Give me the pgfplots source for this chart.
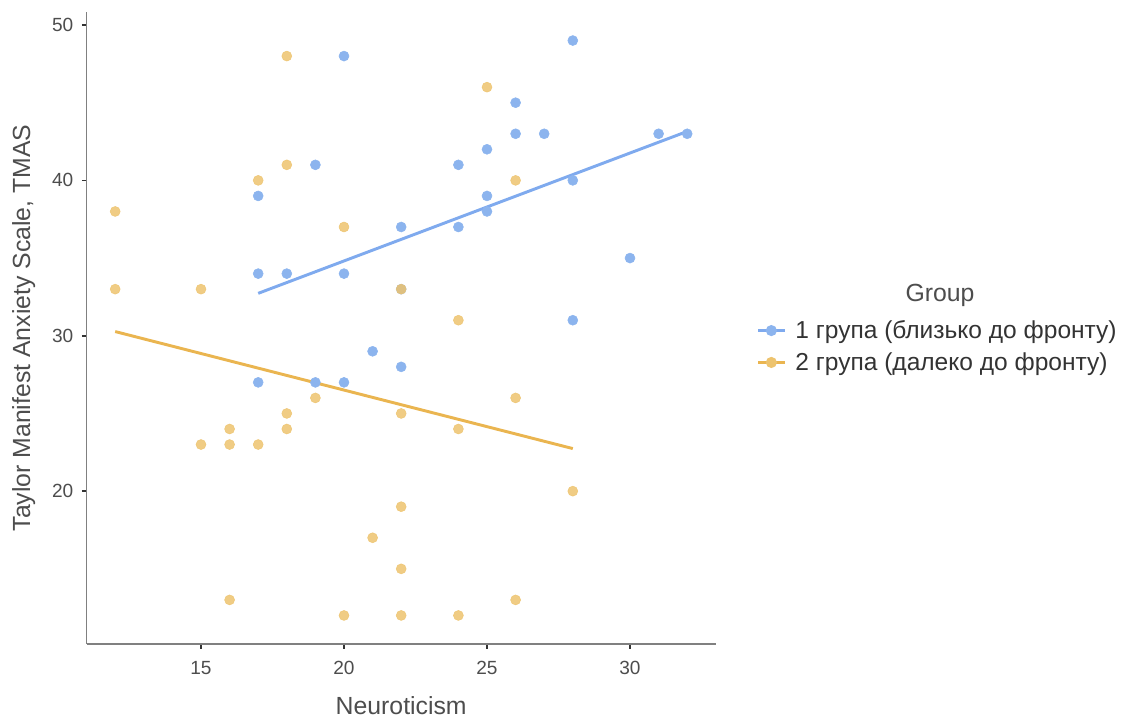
\documentclass[border=0pt]{standalone}
\usepackage{fontspec}
\setmainfont{Liberation Sans}
\usepackage{pgfplots}
\pgfplotsset{compat=1.18}
\definecolor{gblue}{HTML}{8CB4EE}
\definecolor{gorange}{HTML}{EDC36E}
\definecolor{lblue}{HTML}{7FAAEE}
\definecolor{lorange}{HTML}{EAB550}
\definecolor{axgray}{HTML}{808080}
\definecolor{txtgray}{HTML}{4D4D4D}
\begin{document}
\begin{tikzpicture}
\useasboundingbox (-64.95pt,-55.35pt) rectangle (784.8pt,483.15pt);
\begin{axis}[
  at={(0pt,0pt)}, anchor=south west,
  scale only axis,
  width=471.9pt, height=474.3pt,
  xmin=11, xmax=33, ymin=10.15, ymax=50.85,
  axis lines*=left,
  axis line style={color=axgray, line width=1.3pt},
  xtick={15,20,25,30}, ytick={20,30,40,50},
  tick align=outside, tick pos=left,
  major tick length=3.5pt,
  tick style={color=black!80, line width=1.2pt},
  /pgf/number format/assume math mode=true,
  ticklabel style={font=\fontsize{14.3}{16}\selectfont, text=txtgray},
  xticklabel style={yshift=-5.5pt},
  yticklabel style={xshift=-3pt},
  xlabel={Neuroticism},
  ylabel={Taylor Manifest Anxiety Scale, TMAS},
  label style={font=\fontsize{18.6}{22}\selectfont, text=txtgray},
  xlabel style={at={(0.5,0)}, anchor=north, yshift=-36pt},
  ylabel style={at={(0,0.5)}, anchor=south, yshift=35pt},
  clip=false,
  legend style={at={(1.058,0.4708)}, anchor=west, draw=none, fill=none,
    font=\fontsize{18.4}{22}\selectfont, text=black!80, row sep=5pt,
    /tikz/every odd column/.append style={column sep=5pt}},
  legend cell align=left,
  legend image code/.code={\draw[mark repeat=2,mark phase=2,#1] plot coordinates {(0pt,0pt) (10pt,0pt) (20pt,0pt)};},
]
% group 1 points
\addplot[only marks, mark=*, mark size=3.75pt, color=gblue, forget plot] coordinates {
(20,48) (28,49) (26,45) (26,43) (27,43) (31,43) (32,43) (25,42) (24,41) (19,41)
(28,40) (17,39) (25,39) (25,38) (22,37) (24,37) (30,35) (17,34) (18,34) (20,34)
(22,33) (28,31) (21,29) (22,28) (17,27) (19,27) (20,27)
};
% group 2 points
\addplot[only marks, mark=*, mark size=3.75pt, color=gorange, fill opacity=0.85, draw opacity=0.85, forget plot] coordinates {
(18,48) (25,46) (17,40) (18,41) (12,38) (20,37) (26,40) (12,33) (15,33) (22,33)
(24,31) (19,26) (18,25) (22,25) (26,26) (16,24) (18,24) (24,24) (15,23) (16,23)
(17,23) (28,20) (22,19) (21,17) (22,15) (16,13) (26,13) (20,12) (22,12) (24,12)
};
% regression lines
\addplot[lblue, line width=2.2pt, forget plot] coordinates {(17,32.73) (32,43.15)};
\addplot[lorange, line width=2.2pt, forget plot] coordinates {(12,30.27) (28,22.74)};
\addlegendimage{lblue, line width=2.2pt, mark=*, mark size=3pt, mark options={color=gblue}}
\addlegendentry{1 група (близько до фронту)}
\addlegendimage{lorange, line width=2.2pt, mark=*, mark size=3pt, mark options={color=gorange}}
\addlegendentry{2 група (далеко до фронту)}
\node[font=\fontsize{18.6}{22}\selectfont, text=txtgray] at (rel axis cs:1.3563,0.5522) {Group};
\end{axis}
\end{tikzpicture}
\end{document}
